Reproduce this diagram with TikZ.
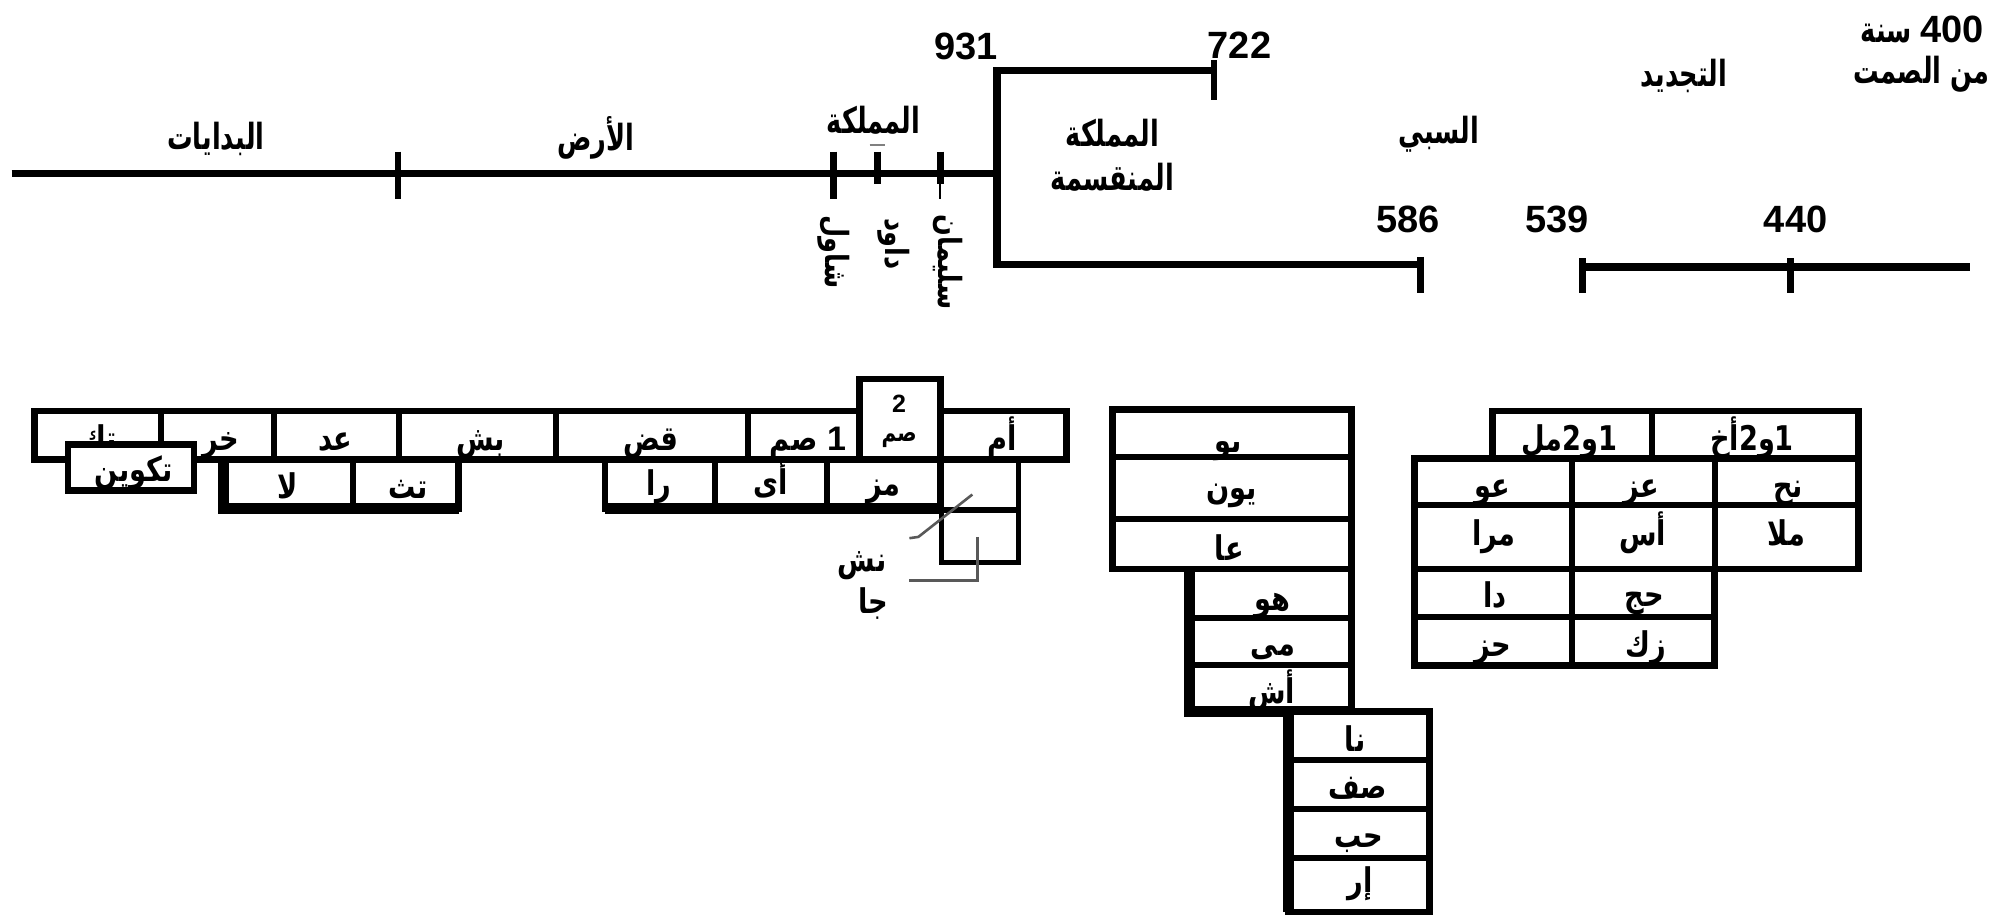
\documentclass[tikz,border=0pt]{standalone}
\usepackage{fontspec}
\setmainfont{Liberation Sans}
\newfontfamily\arfont[Script=Arabic,FakeStretch=0.8]{DejaVu Sans}
\newfontfamily\arfonttop[Script=Arabic,FakeStretch=0.71]{DejaVu Sans}
\TeXXeTstate=1
\newcommand\artxt[1]{{\arfont\bfseries\beginR #1\endR}}
\newcommand\artop[1]{{\arfonttop\bfseries\beginR #1\endR}}
\newcommand\latnum[1]{{\normalfont\bfseries #1}}
\tikzset{
  tline/.style={line width=3.8pt},
  ttick/.style={line width=3.3pt},
  tbord/.style={line width=3.4pt},
  tdiv/.style={line width=3pt},
  tshad/.style={line width=5.5pt},
  sqline/.style={line width=2.6pt},
  conn/.style={line width=1.3pt, draw=gray!70!black},
  num/.style={font=\bfseries\fontsize{19}{21}\selectfont, inner sep=0pt},
  toplab/.style={font=\fontsize{18}{20}\selectfont, inner sep=0pt, anchor=base},
  rotlab/.style={font=\fontsize{16}{18}\selectfont, inner sep=0pt, rotate=-90},
  celltxt/.style={font=\fontsize{17}{19}\selectfont, inner sep=0pt, anchor=base},
  smalltxt/.style={font=\fontsize{12.5}{14}\selectfont, inner sep=0pt, anchor=base},
}
\begin{document}
\begin{tikzpicture}[x=0.6422pt,y=-0.6422pt]
\useasboundingbox (0,0) rectangle (1568,715);
\fill[white] (0,0) rectangle (1568,715);

% ---------- timeline ----------
\draw[tline] (9,135) -- (776,135);
\draw[tline] (945,55) -- (776,55) -- (776,206) -- (1106,206);
\draw[tline] (1232,208) -- (1534,208);
\draw[ttick] (310,118) -- (310,155);
\draw[ttick] (649,118) -- (649,155);
\draw[ttick] (683,118) -- (683,143);
\draw[line width=1pt, gray] (677,113) -- (689,113);
\draw[ttick] (732,118) -- (732,143);
\draw[line width=1pt] (732,143) -- (732,155);
\draw[ttick] (945,47) -- (945,78);
\draw[ttick] (1106,200) -- (1106,228);
\draw[ttick] (1232,201) -- (1232,228);
\draw[ttick] (1394,201) -- (1394,228);

\node[num] (n931) at (752,36) {931};
\node[num] (n722) at (965,35) {722};
\node[num] (n586) at (1096,171) {586};
\node[num] (n539) at (1212,171) {539};
\node[num] (n440) at (1398,171) {440};

\node[toplab] (bid) at (168,116) {\artop{البدايات}};
\node[toplab] (ard) at (464,117) {\artop{الأرض}};
\node[toplab] (mul) at (680,104) {\artop{المملكة}};
\node[toplab] (muq1) at (866,114) {\artop{المملكة}};
\node[toplab] (muq2) at (866,148) {\artop{المنقسمة}};
\node[toplab] (sabi) at (1120,112) {\artop{السبي}};
\node[toplab] (tajd) at (1311,67) {\artop{التجديد}};
\node[toplab, anchor=base east] (sil1) at (1545,33) {\artop{{\fontsize{19}{21}\selectfont\latnum{400}} سنة}};
\node[toplab, anchor=base east] (sil2) at (1549,65) {\artop{من الصمت}};

\node[rotlab] (shaul) at (649,196) {\artxt{شاول}};
\node[rotlab] (dawud) at (696,190) {\artxt{داود}};
\node[rotlab] (sulay) at (738,204) {\artxt{سليمان}};

% ---------- row 1 ----------
\draw[tbord, fill=white] (27,320) rectangle (830,358);
\foreach \xx in {125,213,311,433,582,732} \draw[tdiv] (\xx,320) -- (\xx,358);
\draw[tbord, fill=white] (669,295) rectangle (732,358);

\node[celltxt] (tk) at (77,351) {\artxt{تك}};
\node[celltxt] (khr) at (172,351) {\artxt{خر}};
\node[celltxt] (add) at (261,351) {\artxt{عد}};
\node[celltxt] (bsh) at (374,351) {\artxt{بش}};
\node[celltxt] (qd) at (507,351) {\artxt{قض}};
\node[celltxt] (sm1) at (629,351) {\artxt{\latnum{1} صم}};
\node[smalltxt] (two) at (700,321) {\latnum{2}};
\node[smalltxt] (sm2) at (700,344) {\artxt{صم}};
\node[celltxt] (am) at (780,351) {\artxt{أم}};

% ---------- row 2 (left) ----------
\draw[tbord, fill=white] (53,346) rectangle (151,382);
\node[celltxt] (tkw) at (104,375) {\artxt{تكوين}};

\draw[tbord, fill=white] (174,358) rectangle (357,396);
\draw[tdiv] (275,358) -- (275,396);
\draw[tshad] (174,358) -- (174,396) -- (357,396);
\node[celltxt] (la) at (224,388) {\artxt{لا}};
\node[celltxt] (tth) at (318,388) {\artxt{تث}};

\draw[tbord, fill=white] (471,358) rectangle (732,396);
\draw[tdiv] (557,358) -- (557,396);
\draw[tdiv] (644,358) -- (644,396);
\draw[tshad] (471,396) -- (732,396);
\node[celltxt] (ra) at (513,386) {\artxt{را}};
\node[celltxt] (ay) at (600,385) {\artxt{أى}};
\node[celltxt] (mz) at (688,386) {\artxt{مز}};

% small squares and connectors
\draw[sqline] (732,358) rectangle (793,397);
\draw[sqline] (733,397) rectangle (793,438);
\coordinate (ca1) at (757,385);
\coordinate (ca2) at (715,418);
\coordinate (ca3) at (708,419);
\coordinate (cb1) at (761,418);
\coordinate (cb2) at (761,452);
\coordinate (cb3) at (708,452);
\draw[conn] (ca1) -- (ca2) -- (ca3);
\draw[conn] (cb1) -- (cb2) -- (cb3);
\node[celltxt] (nsh) at (671,445) {\artxt{نش}};
\node[celltxt] (ja) at (680,478) {\artxt{جا}};

% ---------- middle column ----------
\draw[tbord, fill=white] (866,319) rectangle (1052,443);
\draw[tdiv] (866,356) -- (1052,356);
\draw[tdiv] (866,404) -- (1052,404);
\node[celltxt] (yo) at (956,352) {\artxt{يو}};
\node[celltxt] (yon) at (959,389) {\artxt{يون}};
\node[celltxt] (aa) at (957,436) {\artxt{عا}};

\draw[tbord, fill=white] (926,443) rectangle (1052,554);
\draw[tdiv] (926,481) -- (1052,481);
\draw[tdiv] (926,518) -- (1052,518);
\draw[tshad] (926,443) -- (926,554) -- (1052,554);
\node[celltxt] (ho) at (991,475) {\artxt{هو}};
\node[celltxt] (mi) at (991,510) {\artxt{مى}};
\node[celltxt] (ash) at (990,548) {\artxt{أش}};

\draw[tbord, fill=white] (1003,554) rectangle (1113,710);
\draw[tdiv] (1003,592) -- (1113,592);
\draw[tdiv] (1003,630) -- (1113,630);
\draw[tdiv] (1003,668) -- (1113,668);
\draw[tshad] (1003,554) -- (1003,710);
\node[celltxt] (na) at (1055,585) {\artxt{نا}};
\node[celltxt] (sf) at (1057,622) {\artxt{صف}};
\node[celltxt] (hb) at (1058,660) {\artxt{حب}};
\node[celltxt] (ir) at (1059,695) {\artxt{إر}};

% ---------- right table ----------
\draw[tbord, fill=white] (1162,320) rectangle (1447,357);
\draw[tdiv] (1286,320) -- (1286,357);
\node[celltxt] (ml) at (1222,351) {\artxt{1و2مل}};
\node[celltxt] (akh) at (1364,351) {\artxt{1و2أخ}};

\draw[tbord, fill=white] (1101,357) -- (1447,357) -- (1447,443) -- (1335,443) -- (1335,518) -- (1101,518) -- cycle;
\draw[tdiv] (1224,357) -- (1224,518);
\draw[tdiv] (1335,357) -- (1335,443);
\draw[tdiv] (1101,393) -- (1447,393);
\draw[tdiv] (1101,443) -- (1335,443);
\draw[tdiv] (1101,480) -- (1335,480);
\node[celltxt] (aw) at (1162,387) {\artxt{عو}};
\node[celltxt] (az) at (1278,387) {\artxt{عز}};
\node[celltxt] (nh) at (1392,387) {\artxt{نح}};
\node[celltxt] (mra) at (1163,425) {\artxt{مرا}};
\node[celltxt] (as) at (1279,425) {\artxt{أس}};
\node[celltxt] (mla) at (1391,425) {\artxt{ملا}};
\node[celltxt] (da) at (1164,473) {\artxt{دا}};
\node[celltxt] (hj) at (1280,472) {\artxt{حج}};
\node[celltxt] (hz) at (1162,511) {\artxt{حز}};
\node[celltxt] (zk) at (1281,511) {\artxt{زك}};
\end{tikzpicture}
\end{document}
